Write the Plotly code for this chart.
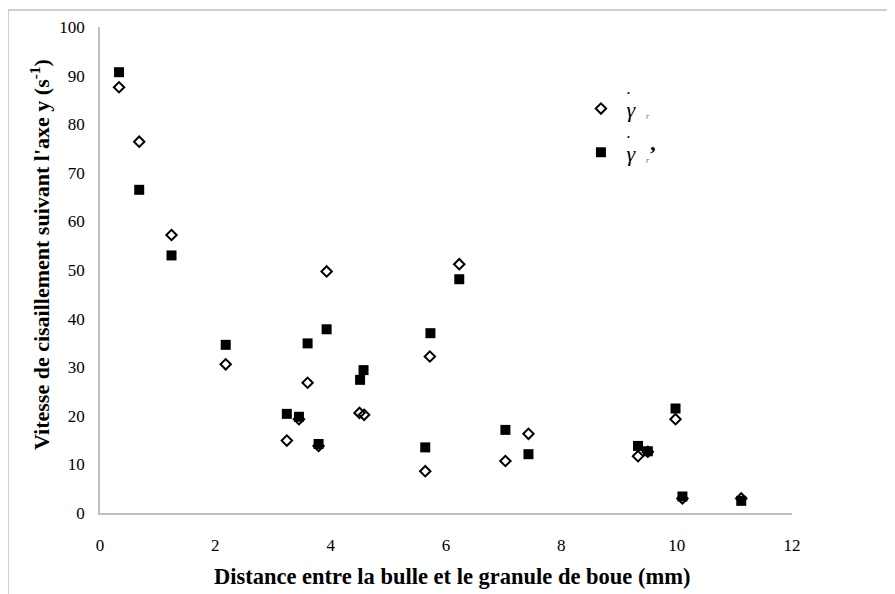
import plotly.graph_objects as go

# distances (mm) and shear rates (s-1)
x_r = [0.33, 0.68, 1.24, 2.18, 3.24, 3.45, 3.60, 3.79, 3.93, 4.50, 4.58,
       5.64, 5.72, 6.23, 7.03, 7.43, 9.33, 9.50, 9.98, 10.10, 11.12]
y_r = [87.6, 76.4, 57.2, 30.6, 14.9, 19.3, 26.8, 13.8, 49.7, 20.6, 20.2,
       8.6, 32.2, 51.2, 10.7, 16.3, 11.7, 12.6, 19.3, 3.0, 3.0]

x_rp = [0.33, 0.68, 1.24, 2.18, 3.24, 3.45, 3.60, 3.79, 3.93, 4.51, 4.57,
        5.64, 5.73, 6.23, 7.03, 7.43, 9.33, 9.50, 9.98, 10.10, 11.12]
y_rp = [90.7, 66.5, 53.0, 34.6, 20.4, 19.8, 34.9, 14.2, 37.8, 27.4, 29.4,
        13.5, 37.0, 48.1, 17.1, 12.1, 13.8, 12.7, 21.5, 3.4, 2.5]

x_ticks = [0, 2, 4, 6, 8, 10, 12]
y_ticks = [0, 10, 20, 30, 40, 50, 60, 70, 80, 90, 100]

x_title = "<b>Distance entre la bulle et le granule de boue (mm)</b>"
y_title = "<b>Vitesse de cisaillement suivant l'axe y (s<sup>-1</sup>)</b>"

serif = "Liberation Serif, Times New Roman, serif"
sub_r = "<span style='font-size:11px;color:#666'><sub><i>r</i></sub></span>"

fig = go.Figure()

fig.add_trace(go.Scatter(
    x=x_r, y=y_r, mode="markers", legendgroup="a",
    name=" <i>γ</i>  " + sub_r,
    marker=dict(symbol="diamond-open", size=8, color="black",
                line=dict(color="black", width=2))
))

fig.add_trace(go.Scatter(
    x=x_rp, y=y_rp, mode="markers", legendgroup="b",
    name=" <i>γ</i>  " + sub_r + "<b>’</b>",
    marker=dict(symbol="square", size=10, color="black")
))

# page has an 8px body margin, so the figure is drawn shifted by 8px
OFF = 8
W, H = 895, 594
ml, mt = 100 - OFF, 27 - OFF
pw, ph = 692, 486
mr, mb = W - ml - pw, H - mt - ph


def px(x):
    return (x - 100) / pw


def py(y):
    return (513 - y) / ph


fig.update_layout(
    width=W, height=H,
    margin=dict(l=ml, r=mr, t=mt, b=mb),
    paper_bgcolor="white", plot_bgcolor="white",
    font=dict(family=serif, color="black"),
    showlegend=True,
    legend=dict(x=0.695, y=0.875, xanchor="left", yanchor="top",
                font=dict(size=22, family=serif),
                bgcolor="rgba(0,0,0,0)", tracegroupgap=12),
    xaxis=dict(range=[0, 12], tickvals=x_ticks, showgrid=False,
               zeroline=False, showline=True, linecolor="#bfbfbf",
               linewidth=1.5, ticks="", tickfont=dict(size=17),
               ticklabelstandoff=16, automargin=False),
    yaxis=dict(range=[0, 100], tickvals=y_ticks, showgrid=False,
               zeroline=False, showline=True, linecolor="#bfbfbf",
               linewidth=1.5, ticks="", tickfont=dict(size=17),
               ticklabelstandoff=10, automargin=False),
)

# axis titles
fig.add_annotation(x=px(452), y=py(576), xref="paper", yref="paper",
                   text=x_title, showarrow=False,
                   xanchor="center", yanchor="middle",
                   font=dict(size=22.5, family=serif, color="black"))
fig.add_annotation(x=px(40), y=py(255), xref="paper", yref="paper",
                   text=y_title, showarrow=False, textangle=-90,
                   xanchor="center", yanchor="middle",
                   font=dict(size=22, family=serif, color="black"))

# dots of the gamma-dot symbols in the legend
for yd in [87, 131]:
    fig.add_annotation(x=px(632), y=py(yd), xref="paper", yref="paper",
                       text="•", showarrow=False,
                       font=dict(size=8, color="black", family=serif))

# outer frame of the original figure (top and left edges visible)
fig.add_shape(type="rect", xref="paper", yref="paper",
              x0=-ml / pw, x1=(W + 10 - ml) / pw,
              y0=-(mb + 10) / ph, y1=(ph + mt - 2) / ph,
              line=dict(color="#a0a0a0", width=1), layer="below")

fig.write_html("out.html")
